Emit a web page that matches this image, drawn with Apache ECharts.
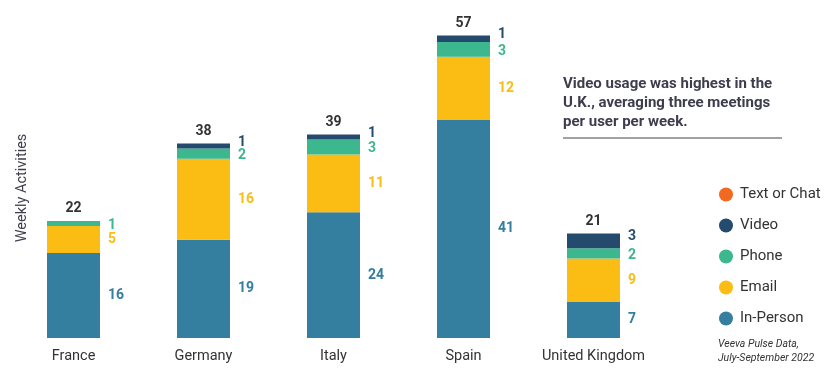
<!DOCTYPE html>
<html><head><meta charset="utf-8">
<script src="https://cdn.jsdelivr.net/npm/echarts@6/dist/echarts.min.js"></script>
<style>html,body{margin:0;padding:0;background:#fff}#c{width:835px;height:384px}</style>
</head><body><div id="c"></div>
<script>
const categories = ['France','Germany','Italy','Spain','United Kingdom'];
// segment heights
const inPerson = [16.0,18.5,23.7,41.1,6.8];
const email = [5.1,15.3,10.9,11.9,8.2];
const phone = [0.95,1.9,2.8,2.8,1.9];
const video = [0,0.95,0.95,1.2,2.8];
const textChat = [0,0,0,0,0];
// printed labels
const inPersonLabels = [16,19,24,41,7];
const emailLabels = [5,16,11,12,9];
const phoneLabels = [1,2,3,3,2];
const videoLabels = [0,1,1,1,3];
const totals = [22,38,39,57,21];

const C = {inPerson:'#347ea0', email:'#fbbc14', phone:'#3db78e', video:'#244b6e', text:'#f26a21'};
const chart = echarts.init(document.getElementById('c'));
const FONT = 'Roboto';
function seg(name, data, labels, color, off){
  return {
    name, type:'bar', stack:'s', data, barWidth:53,
    itemStyle:{color},
    label:{show:true, position:'right', distance:8, color, fontFamily:FONT, fontWeight:'bold', fontSize:14,
      offset: off||[0,0],
      formatter: p => labels[p.dataIndex] ? labels[p.dataIndex] : ''}
  };
}
chart.setOption({
  animation:false,
  textStyle:{fontFamily:FONT},
  grid:{left:8.5, right:176.5, top:9, bottom:46},
  xAxis:{type:'category', data:categories, axisLine:{show:false}, axisTick:{show:false},
    axisLabel:{color:'#333', fontSize:14.5, margin:11, interval:0, hideOverlap:false, fontFamily:FONT}},
  yAxis:{type:'value', min:0, max:62, show:false},
  legend:{orient:'vertical', left:714, top:182, itemGap:16, itemWidth:14, itemHeight:14, icon:'circle',
    data:['Text or Chat','Video','Phone','Email','In-Person'],
    textStyle:{color:'#333', fontSize:15, fontFamily:FONT, padding:[0,0,0,2]}},
  series:[
    seg('In-Person', inPerson, inPersonLabels, C.inPerson),
    seg('Email', email, emailLabels, C.email),
    seg('Phone', phone, phoneLabels, C.phone, [0,2]),
    seg('Video', video, videoLabels, C.video, [0,-4]),
    {name:'Text or Chat', type:'bar', stack:'s', data:textChat, barWidth:53, itemStyle:{color:C.text}, label:{show:false}},
    {name:'Total', type:'bar', stack:'s', data:totals.map(()=>0), barWidth:53, itemStyle:{color:'transparent'},
      label:{show:true, position:'top', distance:5, color:'#333', fontWeight:'bold', fontSize:14, fontFamily:FONT,
        formatter: p => totals[p.dataIndex]}}
  ],
  graphic:[
    {type:'text', x:22, y:188, rotation:Math.PI/2, style:{text:'Weekly Activities', fill:'#3d3d4d', fontSize:14.5, fontFamily:FONT, align:'center', verticalAlign:'middle'}},
    {type:'text', left:563, top:75, style:{text:'Video usage was highest in the\nU.K., averaging three meetings\nper user per week.', fill:'#3d3d4d', fontSize:15, fontWeight:'bold', lineHeight:19, fontFamily:FONT}},
    {type:'line', shape:{x1:563, y1:138, x2:782, y2:138}, style:{stroke:'#444', lineWidth:1}},
    {type:'text', left:718, top:337, style:{text:'Veeva Pulse Data,\nJuly-September 2022', fill:'#333', fontSize:10.5, fontStyle:'italic', lineHeight:14, fontFamily:FONT}}
  ]
});
</script></body></html>
